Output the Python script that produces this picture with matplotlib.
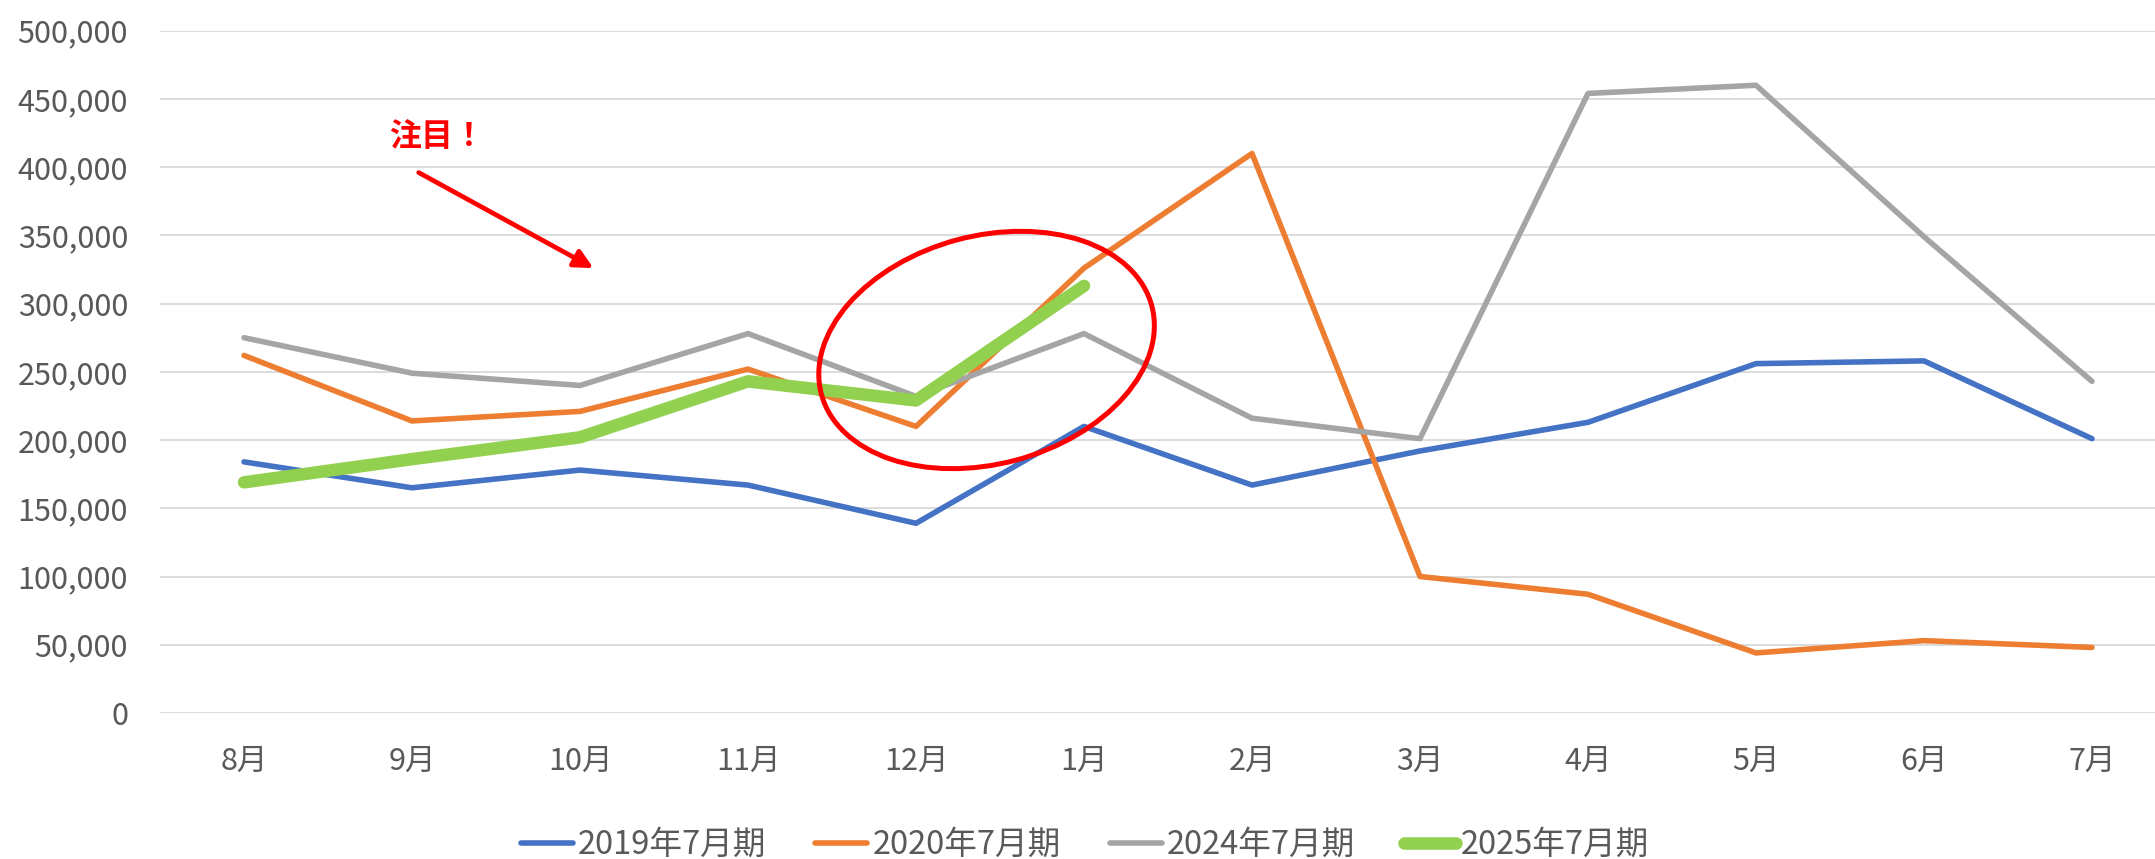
import matplotlib
matplotlib.use("Agg")
import matplotlib.pyplot as plt
from matplotlib.patches import Ellipse
from matplotlib.transforms import ScaledTranslation
from matplotlib.ticker import FuncFormatter

plt.rcParams['font.family'] = ['Noto Sans CJK JP', 'DejaVu Sans']

# months and series
months = ["8月", "9月", "10月", "11月", "12月", "1月", "2月", "3月", "4月", "5月", "6月", "7月"]
fy2019 = [184000, 165000, 178000, 167000, 139000, 210000, 167000, 192000, 213000, 256000, 258000, 201000]
fy2020 = [262000, 214000, 221000, 252000, 210000, 326000, 410000, 100000, 87000, 44000, 53000, 48000]
fy2024 = [275000, 249000, 240000, 278000, 232000, 278000, 216000, 201000, 454000, 460000, 349000, 243000]
fy2025 = [169000, 186000, 202000, 243000, 229000, 313000]
series_names = ["2019年7月期", "2020年7月期", "2024年7月期", "2025年7月期"]

text_col = "#595959"

fig = plt.figure(figsize=(21.55, 8.59), dpi=100)
ax = fig.add_axes([0.07425, 0.170, 0.9355, 0.7943])

x = list(range(len(months)))
ax.plot(x, fy2019, color="#4472C4", lw=4, solid_capstyle="round", solid_joinstyle="round", label=series_names[0])
ax.plot(x, fy2020, color="#ED7D31", lw=4, solid_capstyle="round", solid_joinstyle="round", label=series_names[1])
ax.plot(x, fy2024, color="#A5A5A5", lw=4, solid_capstyle="round", solid_joinstyle="round", label=series_names[2])
ax.plot(x[:len(fy2025)], fy2025, color="#92D050", lw=9, solid_capstyle="round", solid_joinstyle="round", label=series_names[3])

ax.set_xlim(-0.5, 11.5)
ax.set_ylim(0, 500000)
ax.set_yticks(range(0, 500001, 50000))
ax.yaxis.set_major_formatter(FuncFormatter(lambda v, p: f"{int(v):,}"))
ax.set_xticks(x)
ax.set_xticklabels(months)
ax.grid(axis="y", color="#D9D9D9", lw=1.3)
ax.set_axisbelow(True)
for s in ax.spines.values():
    s.set_visible(False)
ax.tick_params(axis="both", length=0, labelsize=22, labelcolor=text_col)
ax.tick_params(axis="y", pad=23)
ax.tick_params(axis="x", pad=24)

# annotation: ellipse around 12月-1月, arrow and text
ell = Ellipse((0, 0), 3.42, 2.28, angle=15, fill=False, edgecolor="#FF0000", lw=3.6,
              transform=fig.dpi_scale_trans + ScaledTranslation(4.42, 266000, ax.transData),
              clip_on=False, zorder=10)
ax.add_patch(ell)
ax.annotate("", xy=(2.08, 326000), xytext=(1.04, 396000),
            arrowprops=dict(arrowstyle="-|>", color="#FF0000", lw=3.4, mutation_scale=28,
                            shrinkA=0, shrinkB=0), zorder=10)
ax.text(1.15, 422000, "注目！", color="#FF0000", fontsize=23, fontweight="bold",
        ha="center", va="center", zorder=10)

leg = fig.legend(loc="center", bbox_to_anchor=(1085 / 2155, 1 - 845 / 859), ncol=4,
                 frameon=False, fontsize=23.5, handlelength=1.6, handletextpad=0.15,
                 columnspacing=1.5, labelcolor=text_col)

fig.savefig("out.png", dpi=100)
